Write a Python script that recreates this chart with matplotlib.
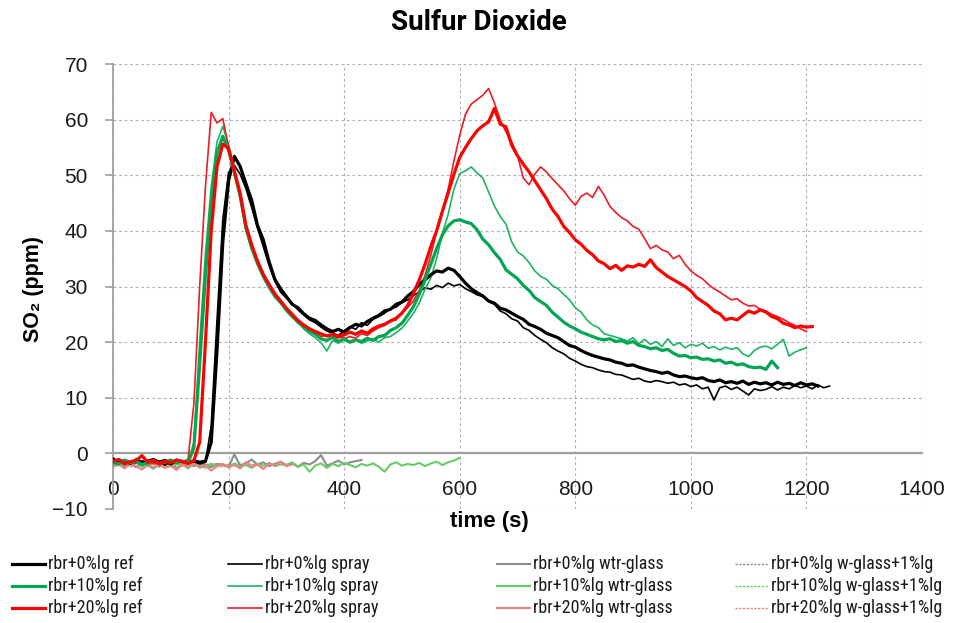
import numpy as np
import matplotlib
matplotlib.use("Agg")
import matplotlib.pyplot as plt
from matplotlib import font_manager
from matplotlib.lines import Line2D

# ---------------- data (SO2 ppm, sampled every 10 s from t = 0) ----------------
step = 10

bk_ref = [-1.0, -1.6, -1.3, -1.8, -1.2, -1.7, -1.4, -1.1, -1.6, -1.3, -1.9, -1.2, -1.5, -1.7, -1.3, -1.6, -1.4,
          2.0, 18.5, 38.0, 49.0, 53.4, 51.6, 48.5, 45.5, 41.0, 38.4, 34.5, 31.3, 29.6, 28.2,
          26.8, 26.2, 25.1, 24.3, 23.9, 23.1, 22.4, 21.9, 22.3, 21.8, 22.6, 23.2, 22.9, 23.7, 24.3,
          24.8, 25.6, 25.9, 26.8, 27.2, 28.3, 29.1, 30.4, 31.2, 32.1, 32.8, 32.6, 33.3, 32.9, 31.8,
          30.6, 29.6, 28.9, 28.3, 27.4, 27.0, 26.1, 25.8, 25.2, 24.6, 24.1, 23.2, 22.8, 22.3, 21.6,
          21.2, 20.8, 20.1, 19.4, 19.1, 18.5, 18.0, 17.6, 17.3, 17.0, 16.8, 16.4, 16.2, 15.8, 15.9,
          15.5, 15.2, 14.9, 14.7, 14.4, 14.6, 14.1, 13.8, 13.9, 13.6, 13.4, 13.6, 13.1, 12.9, 13.2,
          12.7, 12.9, 12.6, 13.0, 12.4, 12.8, 12.5, 12.7, 12.3, 12.8, 12.4, 12.6, 12.2, 12.7, 12.3,
          12.5, 12.1]

bk_spray = [-1.8, -1.4, -2.0, -1.5, -1.7, -1.3, -1.9, -1.6, -1.4, -2.1, -1.5, -1.8, -1.3, -1.7, -1.5, -1.9, -1.6,
            5.0, 24.0, 42.0, 50.5, 51.8, 50.2, 47.6, 44.2, 40.5, 37.2, 33.8, 31.0, 29.0, 27.9,
            27.0, 25.8, 24.9, 24.0, 23.5, 22.7, 22.0, 21.6, 21.2, 22.0, 22.8, 22.3, 23.5, 23.0, 24.1,
            24.6, 25.2, 26.0, 26.3, 27.1, 27.6, 28.4, 29.0, 29.8, 29.5, 30.2, 29.8, 30.6, 30.1, 30.4,
            29.6, 29.1, 28.5, 28.2, 27.3, 26.8, 25.6, 25.1, 24.2, 23.8, 22.6, 22.1, 21.2, 20.5, 19.9,
            19.0, 18.4, 17.9, 17.1, 16.6, 16.0, 15.6, 15.4, 15.0, 14.7, 14.6, 14.2, 14.1, 13.7, 13.3,
            13.5, 13.0, 12.8, 13.1, 12.9, 12.6, 12.8, 12.3, 12.5, 12.0, 12.3, 11.6, 11.9, 9.6, 11.8,
            12.1, 11.5, 11.9, 11.2, 10.5, 11.6, 11.3, 11.5, 12.0, 11.4, 11.9, 11.6, 12.2, 11.8, 12.1,
            11.6, 12.3, 11.8, 12.1]

gr_ref = [-1.5, -1.9, -1.2, -1.7, -1.4, -2.0, -1.6, -1.3, -1.8, -1.5, -1.2, -1.7, -1.4, -1.6,
          1.0, 16.0, 32.0, 45.0, 54.0, 57.0, 54.5, 50.5, 46.3, 40.5, 37.0, 34.3, 32.0, 30.2, 28.5,
          27.3, 25.9, 24.8, 23.6, 22.8, 22.0, 21.4, 20.6, 20.3, 20.9, 20.1, 20.6, 20.0, 20.4, 20.1,
          20.7, 20.3, 21.0, 21.2, 22.1, 22.6, 23.4, 24.8, 26.4, 28.6, 31.2, 34.0, 36.8, 39.3, 40.9,
          41.8, 42.0, 41.6, 41.3, 40.2, 38.5, 37.5, 36.1, 34.9, 33.0, 32.2, 31.4, 30.2, 29.3, 28.0,
          27.3, 26.6, 25.4, 24.5, 23.6, 22.9, 22.4, 21.8, 21.4, 21.0, 20.6, 20.4, 20.6, 20.1, 20.3,
          19.8, 20.1, 19.4, 19.2, 18.8, 19.0, 18.5, 18.7, 18.0, 17.5, 17.6, 17.2, 17.3, 16.9, 17.0,
          16.6, 16.8, 16.2, 16.4, 15.9, 16.1, 15.6, 15.4, 15.5, 15.1, 16.6, 15.4]

gr_spray = [-2.0, -1.6, -1.3, -1.8, -0.9, -1.5, -2.1, -1.4, -1.7, -1.2, -1.9, -1.6, -1.3, -1.5,
            2.0, 20.0, 36.0, 48.0, 56.0, 58.8, 55.5, 51.0, 46.0, 40.2, 36.5, 33.8, 31.5, 29.6, 28.0,
            26.9, 25.5, 24.4, 23.5, 22.4, 21.5, 20.8, 19.9, 18.4, 20.3, 19.8, 20.4, 19.9, 20.5, 19.8,
            20.2, 20.6, 20.0, 20.8, 21.0, 21.7, 22.5, 23.8, 25.2, 27.0, 29.5, 31.5, 35.0, 39.5, 43.0,
            47.5, 50.3, 50.8, 51.5, 50.4, 49.5, 47.0, 44.5, 42.6, 41.2, 38.0, 36.2, 35.5, 34.3, 32.8,
            31.8, 31.3, 30.2, 29.6, 28.6, 27.6, 26.2, 25.4, 24.0, 23.1, 22.6, 21.5, 21.2, 20.9, 20.6,
            20.2, 20.8, 19.7, 20.5, 19.6, 20.1, 19.2, 20.6, 19.4, 19.9, 19.0, 19.6, 19.3, 19.8, 18.9,
            19.2, 18.6, 19.1, 18.7, 19.0, 17.9, 17.4, 18.5, 19.1, 19.3, 18.8, 19.6, 20.5, 17.5, 18.2,
            18.6, 19.0]

rd_ref = [-1.4, -1.1, -1.8, -1.5, -1.3, -0.4, -1.6, -1.2, -1.9, -1.4, -1.7, -1.2, -1.5, -1.8, -1.3,
          2.0, 20.0, 40.0, 51.5, 55.6, 54.8, 50.8, 46.8, 41.0, 37.5, 34.6, 32.2, 30.4, 28.7, 27.4,
          26.1, 25.0, 23.9, 23.1, 22.4, 21.9, 21.5, 21.1, 21.4, 20.9, 21.3, 21.8, 21.4, 22.0, 21.6,
          22.4, 22.9, 23.2, 23.8, 24.3, 25.2, 26.6, 28.8, 31.2, 34.0, 37.2, 40.0, 43.5, 46.8, 50.2,
          53.2, 55.0, 56.6, 58.0, 58.9, 59.6, 62.0, 59.2, 58.7, 55.4, 53.5, 52.0, 50.6, 49.0, 47.4,
          45.8, 43.9, 42.6, 40.8, 39.7, 38.4, 37.6, 36.5, 35.7, 34.6, 34.1, 33.2, 33.8, 32.9, 33.7,
          33.5, 34.0, 33.6, 34.8, 33.4, 32.6, 31.8, 31.2, 30.6, 30.0, 29.2, 28.0, 27.3, 26.6, 25.6,
          25.1, 24.0, 24.3, 24.0, 24.8, 25.6, 25.2, 25.8, 25.4, 24.6, 24.2, 23.4, 23.1, 22.6, 22.9,
          22.7, 22.8]

rd_spray = [-1.7, -1.3, -2.0, -1.5, -1.2, -1.8, -1.4, -1.9, -1.5, -1.1, -1.7, -1.4, -1.6,
            -1.0, 9.0, 30.0, 48.0, 61.3, 59.4, 60.2, 55.0, 50.2, 46.0, 40.6, 37.0, 34.2, 31.8, 30.0,
            28.3, 27.1, 25.8, 24.7, 23.6, 22.8, 22.1, 21.6, 21.0, 21.3, 20.8, 21.4, 20.6, 21.0, 20.7,
            21.5, 21.2, 22.0, 22.6, 23.0, 23.7, 24.0, 25.3, 26.2, 27.4, 29.3, 32.0, 35.6, 39.8, 43.6,
            47.5, 52.6, 57.2, 61.0, 62.8, 63.6, 64.4, 65.6, 63.0, 60.0, 57.8, 56.0, 53.6, 49.5, 48.3,
            50.2, 51.5, 50.6, 49.4, 48.3, 47.2, 45.8, 44.6, 46.2, 46.8, 46.0, 48.0, 46.4, 44.4, 43.3,
            42.4, 41.8, 40.8, 40.3, 38.6, 36.8, 37.4, 36.6, 36.2, 35.0, 35.6, 34.0, 32.8, 32.0, 31.4,
            30.4, 29.6, 29.0, 28.3, 27.6, 27.8, 27.0, 26.5, 26.6, 25.9, 25.6, 25.0, 24.6, 24.1, 23.5,
            23.0, 22.4, 21.9]

bk_wtr = [-2.0, -1.6, -2.3, -1.8, -2.5, -1.9, -2.2, -1.7, -2.4, -2.0, -1.8, -2.6, -2.1, -1.9, -2.3,
          -1.7, -2.2, -2.5, -1.9, -2.1, -2.4, -0.2, -2.2, -1.8, -1.1, -2.0, -1.6, -2.3, -1.9, -1.5,
          -2.1, -1.8, -2.4, -1.7, -2.0, -1.4, -0.3, -2.2, -1.8, -1.3, -2.0, -1.6, -1.4, -1.2]

gr_wtr = [-2.3, -1.8, -2.6, -2.0, -1.5, -2.4, -2.1, -2.8, -1.9, -2.2, -1.7, -2.5, -2.0, -2.7, -1.8,
          -2.2, -2.6, -1.9, -2.3, -2.0, -2.5, -1.8, -2.4, -2.1, -2.6, -1.9, -2.2, -1.7, -2.3, -2.0,
          -2.1, -1.6, -2.4, -2.0, -3.3, -2.2, -1.8, -2.6, -1.9, -2.3, -1.7, -2.1, -2.5, -1.9, -2.2,
          -1.8, -2.4, -3.3, -2.0, -1.6, -2.2, -1.9, -2.1, -1.7, -2.3, -1.8, -1.5, -2.1, -1.6, -1.3,
          -0.8]

rd_wtr = [-2.4, -2.0, -2.7, -1.8, -2.3, -2.9, -2.1, -2.5, -1.9, -2.6, -2.2, -3.0, -2.0, -2.4, -1.7,
          -2.6, -2.2, -3.1, -2.3, -1.9, -2.5, -2.1, -2.7, -1.6, -2.4, -2.0, -2.8, -1.8, -2.2, -1.5,
          -2.3, -2.0]

bk_wg = [-1.9, -2.2, -1.7, -2.0, -2.3, -1.8, -2.1, -1.6, -2.4, -1.9, -2.2, -1.8, -2.0, -2.3, -1.7,
         -2.1, -1.9, -2.2, -1.8, -2.0, -2.4, -1.9, -2.1, -1.7, -2.2, -2.0]
gr_wg = [-2.1, -1.8, -2.4, -2.0, -1.7, -2.2, -1.9, -2.5, -2.0, -1.8, -2.3, -1.9, -2.1, -1.6, -2.2,
         -2.0, -2.4, -1.8, -2.1, -1.9, -2.3, -2.0, -1.7, -2.2, -1.9, -2.1]
rd_wg = [-1.8, -2.3, -2.0, -2.5, -1.9, -2.1, -2.4, -1.7, -2.2, -2.0, -2.6, -1.9, -2.3, -1.8, -2.1,
         -2.4, -2.0, -1.8, -2.2, -2.5, -1.9, -2.1, -2.3, -1.8, -2.0, -2.2]

x_ticks = [0, 200, 400, 600, 800, 1000, 1200, 1400]
y_ticks = [-10, 0, 10, 20, 30, 40, 50, 60, 70]

# ---------------- fonts ----------------
available = {f.name for f in font_manager.fontManager.ttflist}
def pick(cands):
    for c in cands:
        if c in available:
            return c
    return "DejaVu Sans"

NARROW = pick(["Roboto Condensed", "Liberation Sans Narrow", "Open Sans Condensed", "Roboto", "Inter"])
ARIAL = pick(["Liberation Sans", "Arimo", "DejaVu Sans"])
TITLEF = pick(["Roboto", "Inter", "Liberation Sans"])

# ---------------- styling ----------------
BLACK = "#000000"
GREEN = "#00A651"
GREEN_T = "#1DB462"
GREEN_L = "#66CC66"
RED = "#FF0000"
RED_T = "#EE1C24"
PINK = "#F08080"
GRAY = "#8C8C8C"
DOT = (0, (1.6, 1.1))

series = [
    ("rbr+0%lg ref", bk_ref, BLACK, 2.3, "-"),
    ("rbr+10%lg ref", gr_ref, GREEN, 2.3, "-"),
    ("rbr+20%lg ref", rd_ref, RED, 2.3, "-"),
    ("rbr+0%lg spray", bk_spray, BLACK, 1.2, "-"),
    ("rbr+10%lg spray", gr_spray, GREEN_T, 1.2, "-"),
    ("rbr+20%lg spray", rd_spray, RED_T, 1.2, "-"),
    ("rbr+0%lg wtr-glass", bk_wtr, GRAY, 1.5, "-"),
    ("rbr+10%lg wtr-glass", gr_wtr, GREEN_L, 1.5, "-"),
    ("rbr+20%lg wtr-glass", rd_wtr, PINK, 1.5, "-"),
    ("rbr+0%lg w-glass+1%lg", bk_wg, GRAY, 1.0, DOT),
    ("rbr+10%lg w-glass+1%lg", gr_wg, GREEN_L, 1.0, DOT),
    ("rbr+20%lg w-glass+1%lg", rd_wg, PINK, 1.0, DOT),
]

W, H = 958, 623
fig = plt.figure(figsize=(W / 100, H / 100), dpi=100)
ax = fig.add_axes([113 / W, 1 - 509 / H, (922 - 113) / W, (509 - 64) / H])

zorder_map = {"ref": 4, "spray": 3, "wtr-glass": 2, "w-glass+1%lg": 1.9}
for label, data, color, lw, ls in series:
    t = np.arange(len(data)) * step
    kind = label.split(" ", 1)[1]
    ax.plot(t, data, color=color, lw=lw, ls=ls, zorder=zorder_map[kind],
            solid_joinstyle="round", label=label)

ax.set_xlim(0, 1400)
ax.set_ylim(-10, 70)
ax.set_xticks(x_ticks)
ax.set_yticks(y_ticks)

ax.grid(True, color="#B0B0B0", lw=0.8, ls=(0, (2.5, 2.5)))
ax.set_axisbelow(True)

for s in ["top", "right"]:
    ax.spines[s].set_visible(False)
ax.spines["left"].set_color("#A0A0A0")
ax.spines["left"].set_linewidth(1.3)
ax.spines["bottom"].set_position(("data", 0))
ax.spines["bottom"].set_color("#A0A0A0")
ax.spines["bottom"].set_linewidth(1.6)
ax.spines["bottom"].set_zorder(1.5)

ax.tick_params(axis="y", length=6, width=1.2, color="#A0A0A0", labelsize=15, pad=12,
               labelcolor="#1a1a1a")
ax.tick_params(axis="x", length=0, labelsize=15, pad=19, labelcolor="#1a1a1a")
for lab in ax.get_xticklabels() + ax.get_yticklabels():
    lab.set_fontfamily([ARIAL, "DejaVu Sans"])

ax.set_xlabel("time (s)", fontsize=16, fontweight="bold", fontfamily=[ARIAL, "DejaVu Sans"])
ax.xaxis.set_label_coords(0.465, -0.005)
ax.set_ylabel("SO\u2082 (ppm)", fontsize=15.5, fontweight="bold", fontfamily=[ARIAL, "DejaVu Sans"])
ax.yaxis.set_label_coords(-0.085, 0.494)

fig.text(0.5, 1 - 22 / H, "Sulfur Dioxide", ha="center", va="center", fontsize=20,
         fontweight="bold", family=[TITLEF, "DejaVu Sans"])

# legend drawn as a 4 x 3 grid of short sample lines with labels
col_x = [(12, 45), (228, 262), (497, 530), (735, 768)]
row_y = [564, 586, 608]
for i, (label, data, color, lw, ls) in enumerate(series):
    c, r = divmod(i, 3)
    x0, x1 = col_x[c]
    y = 1 - row_y[r] / H
    fig.add_artist(Line2D([x0 / W, x1 / W], [y, y], transform=fig.transFigure,
                          color=color, lw=lw, ls=ls))
    fig.text((x1 + 3) / W, y, label, ha="left", va="center", fontsize=13,
             family=[NARROW, "DejaVu Sans"], color="#1a1a1a")

fig.savefig("out.png", dpi=100)
